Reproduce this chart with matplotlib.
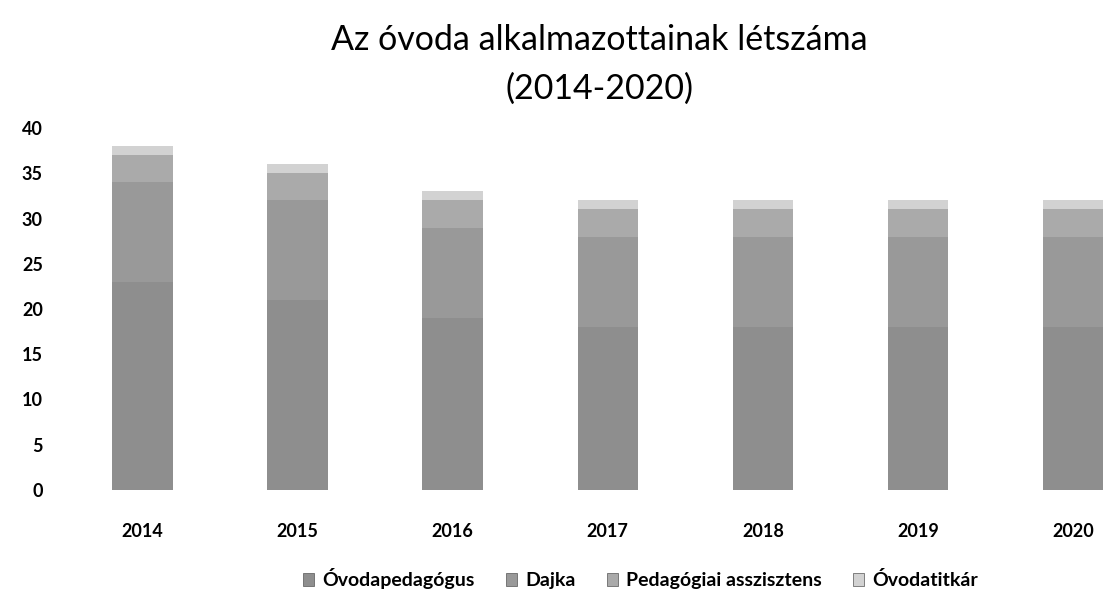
import numpy as np
import matplotlib.pyplot as plt
from matplotlib.patches import Patch

#%% data
years = ['2014', '2015', '2016', '2017', '2018', '2019', '2020']
ovodapedagogus = [23, 21, 19, 18, 18, 18, 18]
dajka = [11, 11, 10, 10, 10, 10, 10]
asszisztens = [3, 3, 3, 3, 3, 3, 3]
titkar = [1, 1, 1, 1, 1, 1, 1]
series_names = ['Óvodapedagógus', 'Dajka', 'Pedagógiai asszisztens', 'Óvodatitkár']

#%% plot
plt.rcParams['font.family'] = ['Lato', 'DejaVu Sans']
fig = plt.figure(figsize=(11.04, 5.96), dpi=100, facecolor='w')
ax = fig.add_axes([65/1104, 106/596, 1 - 65/1104, 362/596])

x = np.arange(len(years))
colors = ['#8e8e8e', '#999999', '#aaaaaa', '#d2d2d2']
bottom = np.zeros(len(years))
for vals, c, name in zip([ovodapedagogus, dajka, asszisztens, titkar], colors, series_names):
    ax.bar(x, vals, width=0.39, bottom=bottom, color=c, edgecolor='none', label=name)
    bottom += np.array(vals)

ax.set_xlim(-0.5, 6.2)
ax.set_ylim(0, 40)
ax.set_yticks(range(0, 41, 5))
ax.set_xticks(x)
ax.set_xticklabels(years)
for s in ax.spines.values():
    s.set_visible(False)
ax.tick_params(axis='both', length=0, labelsize=13)
ax.tick_params(axis='x', pad=24)
ax.tick_params(axis='y', pad=16)
for tl in ax.get_xticklabels() + ax.get_yticklabels():
    tl.set_fontweight('bold')

fig.text(0.543, 0.96, 'Az óvoda alkalmazottainak létszáma\n(2014-2020)',
         ha='center', va='top', fontsize=24.5, linespacing=1.65)

handles = [Patch(facecolor=c, edgecolor='#555555', linewidth=0.5) for c in colors]
fig.legend(handles, series_names, loc='lower center', bbox_to_anchor=(0.58, -0.018),
           ncol=4, frameon=False, handlelength=0.6, handleheight=0.6,
           handletextpad=0.4, columnspacing=1.6, prop={'weight': 'bold', 'size': 14})

plt.savefig('out.png', dpi=100, facecolor='w')
